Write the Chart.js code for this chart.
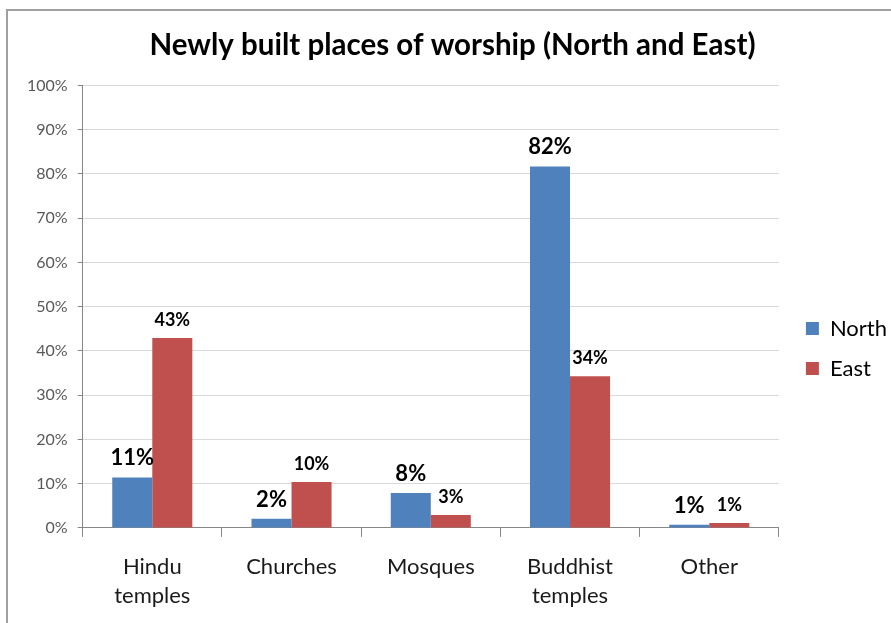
<!DOCTYPE html>
<html>
<head>
<meta charset="utf-8">
<script src="https://cdn.jsdelivr.net/npm/chart.js@4/dist/chart.umd.min.js"></script>
<style>
  body { margin: 0; background: #fff; }
  #frame { position: absolute; left: 6px; top: 9px; width: 1000px; height: 700px; border: 2px solid #a0a0a0; }
  #worshipChart { position: absolute; left: 0; top: 0; }
</style>
</head>
<body>
<div id="frame"></div>
<canvas id="worshipChart" width="891" height="623"></canvas>
<script>
const categories = [['Hindu', 'temples'], 'Churches', 'Mosques', ['Buddhist', 'temples'], 'Other'];
const northValues = [11.4, 2.1, 7.9, 81.7, 0.7];
const eastValues = [42.9, 10.4, 2.9, 34.3, 1.1];
const yTicks = [0, 10, 20, 30, 40, 50, 60, 70, 80, 90, 100];

const fontFamily = 'Lato, "Open Sans", sans-serif';

// value labels above each bar
const barLabels = {
    id: 'barLabels',
    afterDatasetsDraw(chart) {
        const ctx = chart.ctx;
        chart.data.datasets.forEach((ds, i) => {
            const meta = chart.getDatasetMeta(i);
            const size = i === 0 ? 22 : 18;
            ctx.save();
            ctx.font = 'bold ' + size + 'px ' + fontFamily;
            ctx.fillStyle = '#000';
            ctx.textAlign = 'center';
            ctx.textBaseline = 'alphabetic';
            meta.data.forEach((bar, j) => {
                ctx.fillText(Math.round(ds.data[j]) + '%', bar.x, bar.y - 12);
            });
            ctx.restore();
        });
    }
};

// push the legend a little further from the plot
const legendGap = {
    id: 'legendGap',
    afterLayout(chart) {
        chart.legend.left += 9;
        chart.legend.right += 9;
    }
};

new Chart(document.getElementById('worshipChart'), {
    type: 'bar',
    data: {
        labels: categories,
        datasets: [
            { label: 'North', data: northValues, backgroundColor: '#4F81BD' },
            { label: 'East', data: eastValues, backgroundColor: '#C0504D' }
        ]
    },
    options: {
        responsive: false,
        animation: false,
        categoryPercentage: 0.575,
        barPercentage: 1,
        layout: { padding: { left: 17, right: 3, top: 22, bottom: -2 } },
        scales: {
            x: {
                grid: { drawOnChartArea: false, offset: true, tickLength: 9, color: '#868686' },
                border: { color: '#868686' },
                ticks: { color: '#1a1a1a', padding: 15, font: { family: fontFamily, size: 22, lineHeight: 1.32 } }
            },
            y: {
                min: 0,
                max: 100,
                afterBuildTicks: (axis) => { axis.ticks = yTicks.map(v => ({ value: v })); },
                grid: { color: '#d9d9d9', tickLength: 5, tickColor: '#868686' },
                border: { color: '#868686' },
                ticks: {
                    color: '#595959',
                    padding: 10,
                    font: { family: fontFamily, size: 16 },
                    callback: (v) => v + '%'
                }
            }
        },
        plugins: {
            title: {
                display: true,
                text: 'Newly built places of worship (North and East)',
                color: '#000',
                font: { family: fontFamily, size: 29.5, weight: 'bold' },
                padding: { top: 6, bottom: 22 }
            },
            legend: {
                position: 'right',
                title: { display: true, text: ' ', padding: 13, font: { size: 20 } },
                labels: {
                    boxWidth: 13,
                    boxHeight: 13,
                    padding: 18,
                    color: '#000',
                    font: { family: fontFamily, size: 22 }
                }
            },
            tooltip: { enabled: false }
        }
    },
    plugins: [barLabels, legendGap]
});
</script>
</body>
</html>
